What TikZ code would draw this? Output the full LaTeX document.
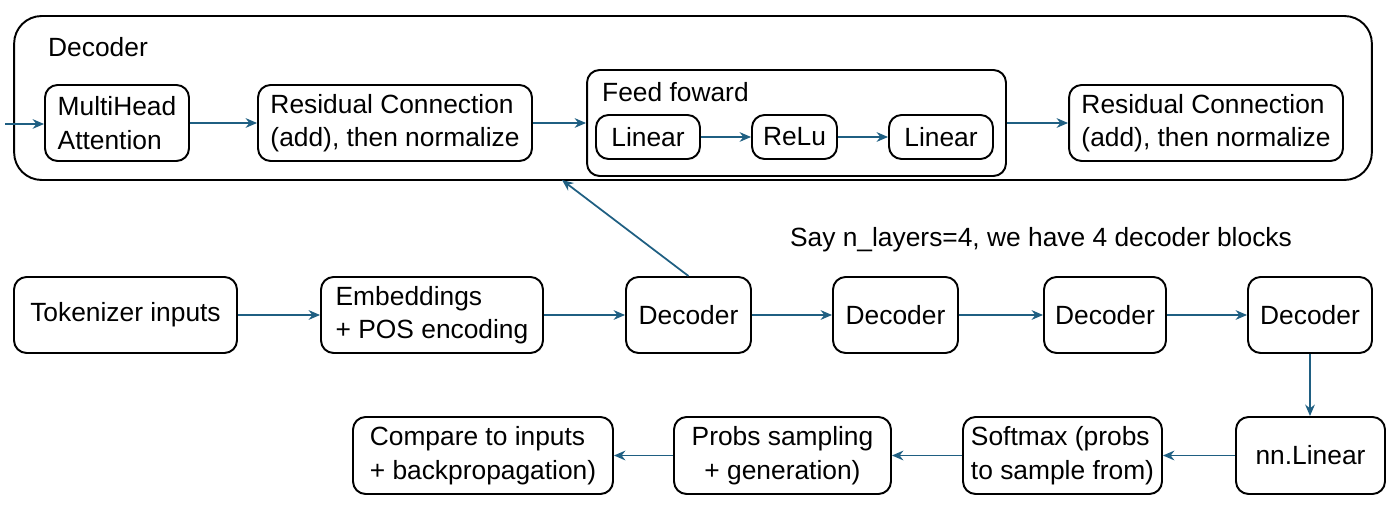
\documentclass[tikz,border=0pt]{standalone}
\usepackage{fontspec}
\setmainfont{Liberation Sans}
\usetikzlibrary{arrows.meta}
\definecolor{fleche}{RGB}{31,95,130}

\begin{document}
\begin{tikzpicture}[x=0.02cm,y=-0.02cm,
    font=\fontsize{15}{19}\selectfont,
    boite/.style={draw,line width=1.1pt,rounded corners=0.25cm,inner sep=2pt,align=left},
    lien/.style={draw=fleche,line width=1pt,-{Stealth[length=6.5pt,width=5.5pt]}}]
                  \useasboundingbox (0,0) rectangle (1400,516);

                  % Bloc decodeur
                  \node[boite,rounded corners=0.55cm,minimum width=27.16cm,minimum height=3.28cm] (bloc) at (693,98) {};
                  \node[anchor=west] (titre) at (42,47) {Decoder};
                  \node[boite,minimum width=2.88cm,minimum height=1.52cm] (mha) at (117,123) {MultiHead\\Attention};
                  \node[boite,minimum width=5.48cm,minimum height=1.52cm] (resA) at (395,123) {Residual Connection\\(add), then normalize};
                  \node[boite,minimum width=8.38cm,minimum height=2.12cm] (ff) at (796.5,123) {};
                  \node[anchor=west] (fftitre) at (596,92) {Feed foward};
                  \node[boite,minimum width=2.08cm,minimum height=0.88cm] (linA) at (648,137) {Linear};
                  \node[boite,minimum width=1.7cm,minimum height=0.88cm] (relu) at (794.5,137) {ReLu};
                  \node[boite,minimum width=2.08cm,minimum height=0.88cm] (linB) at (941,137) {Linear};
                  \node[boite,minimum width=5.48cm,minimum height=1.52cm] (resB) at (1206,123) {Residual Connection\\(add), then normalize};
                  \coordinate (entree) at (5,124);
                  \coordinate (haut) at (562,180);

                  % Ligne principale
                  \node[boite,minimum width=4.46cm,minimum height=1.52cm] (tok) at (125.5,315) {Tokenizer inputs};
                  \node[boite,minimum width=4.44cm,minimum height=1.52cm] (emb) at (432,315) {Embeddings\\+ POS encoding};
                  \foreach \n/\x/\w in {decA/688.5/2.5, decB/895.5/2.5, decC/1105/2.44, decD/1310/2.48} {
                          \node[boite,minimum width=\w cm,minimum height=1.52cm] (\n) at (\x,315) {Decoder};
                      }
                  \node (note) at (1041,240) {Say n\_layers=4, we have 4 decoder blocks};

                  % Sortie
                  \node[boite,minimum width=2.98cm,minimum height=1.54cm] (lin) at (1310.5,455.5) {nn.Linear};
                  \node[boite,minimum width=3.98cm,minimum height=1.54cm] (soft) at (1062.5,455.5) {Softmax (probs\\to sample from)};
                  \node[boite,minimum width=4.34cm,minimum height=1.54cm,align=center] (probs) at (782.5,455.5) {Probs sampling\\+ generation)};
                  \node[boite,minimum width=5.2cm,minimum height=1.54cm] (comp) at (483,455.5) {Compare to inputs\\+ backpropagation)};

                  % Fleches
                  \draw[lien] (entree) -- (mha.west |- entree);
                  \draw[lien] (mha) -- (resA);
                  \draw[lien] (resA) -- (ff.west |- resA);
                  \draw[lien] (ff.east |- resB) -- (resB);
                  \draw[lien] (linA) -- (relu);
                  \draw[lien] (relu) -- (linB);
                  \draw[lien] (decA.north) -- (haut);
                  \draw[lien] (tok) -- (emb);
                  \draw[lien] (emb) -- (decA);
                  \draw[lien] (decA) -- (decB);
                  \draw[lien] (decB) -- (decC);
                  \draw[lien] (decC) -- (decD);
                  \draw[lien] (decD.south) -- (lin.north -| decD.south);
                  \draw[lien] (lin) -- (soft);
                  \draw[lien] (soft) -- (probs);
                  \draw[lien] (probs) -- (comp);
              \end{tikzpicture}
\end{document}
